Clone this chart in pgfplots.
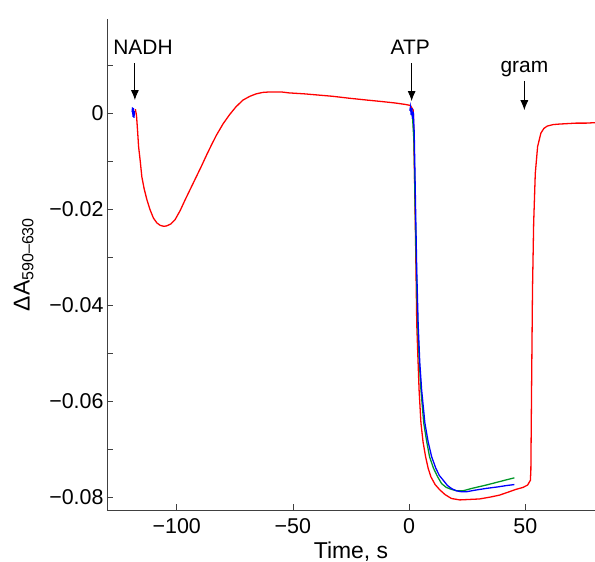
\documentclass[border=0pt]{standalone}
\usepackage{fontspec}
\setmainfont{Liberation Sans}
\usepackage{pgfplots}
\pgfplotsset{compat=1.18}
\usetikzlibrary{arrows.meta}
\definecolor{cred}{RGB}{255,0,0}
\definecolor{cblue}{RGB}{0,0,255}
\definecolor{cgreen}{RGB}{0,150,40}
\begin{document}
\begin{tikzpicture}
\begin{axis}[
  at={(0,0)}, anchor=south west,
  scale only axis, width=488bp, height=491bp,
  xmin=-130, xmax=80, ymin=-0.0827, ymax=0.0196,
  scaled y ticks=false, scaled x ticks=false,
  axis x line*=bottom, axis y line*=left,
  axis line style={black!75, line width=0.8pt},
  every tick/.style={black!75, line width=0.8pt},
  tick align=inside,
  major tick length=6bp, minor tick length=6bp,
  xtick={-100,-50,0,50},
  xticklabels={−100,−50,0,50},
  ytick={-0.08,-0.06,-0.04,-0.02,0},
  yticklabels={−0.08,−0.06,−0.04,−0.02,0},
  minor ytick={-0.07,-0.05,-0.03,-0.01,0.01},
  /pgf/number format/assume math mode=true,
  tick label style={font=\fontsize{21.5}{25}\selectfont},
  xticklabel style={yshift=-5bp},
  xlabel={Time, s}, ylabel={ΔA\textsubscript{590–630}},
  label style={font=\fontsize{23}{27}\selectfont},
  xlabel style={yshift=-1bp},
  ylabel style={yshift=9bp},
  clip=false,
]
\addplot[cred, line width=1.3pt] coordinates {
(-117.8,0.0008) (-117.3,-0.0005) (-116.8,-0.004) (-116.4,-0.007) (-115.7,-0.010) (-115,-0.0133) (-114,-0.0158) (-112.8,-0.0181) (-111.5,-0.0201) (-110,-0.0219) (-108.5,-0.0229) (-107.1,-0.0234) (-105.5,-0.0236) (-104.3,-0.0235) (-102.5,-0.0231) (-100.7,-0.0222) (-98.5,-0.0203) (-96.4,-0.0181) (-94,-0.0157) (-91.5,-0.0132) (-89.3,-0.0110) (-87.2,-0.0088) (-85,-0.0066) (-82.9,-0.0046) (-80,-0.0022) (-77.2,-0.0003) (-74.5,0.0013) (-71.5,0.0027) (-68.5,0.0035) (-65.8,0.0040) (-63,0.0043) (-60.1,0.0044) (-55,0.0044) (-51.6,0.0042) (-45,0.0040) (-40.2,0.0038) (-33,0.0035) (-25.9,0.0031) (-18,0.0027) (-11.7,0.0024) (-6,0.0021) (-1.7,0.0018) (0.5,0.0016)
(1.8,0.0006) (2.3,-0.012) (2.8,-0.027) (3.3,-0.044) (3.8,-0.051) (4.3,-0.0577) (5.1,-0.0646) (6.0,-0.0685) (7.1,-0.0716) (8.2,-0.0740) (9.4,-0.0758) (11.2,-0.0774) (13.2,-0.0785) (15.5,-0.0795) (18.2,-0.0803) (21.8,-0.0806) (26,-0.0805) (30.3,-0.0804) (35,-0.0800) (38.9,-0.0796) (42.5,-0.0790) (46,-0.0784) (49,-0.0780) (51,-0.0775) (52.2,-0.0765) (52.4,-0.0744) (52.7,-0.0577) (53.1,-0.0369) (53.6,-0.0230) (54.3,-0.0126) (55.3,-0.0070) (56.7,-0.0042) (58,-0.0032) (59.5,-0.0027) (62,-0.0024) (64.5,-0.0023) (68,-0.0022) (71.7,-0.0021) (76,-0.0021) (80,-0.0020)
};
\addplot[cgreen, line width=1.3pt] coordinates {
(1.0,0.0008) (1.5,-0.001) (2.1,-0.006) (2.7,-0.022) (3.2,-0.034) (3.7,-0.044) (4.4,-0.052) (5.1,-0.0577) (6.3,-0.0646) (7.6,-0.0685) (8.8,-0.0716) (10.5,-0.0740) (12.3,-0.0758) (14,-0.0772) (16,-0.0780) (18.2,-0.0784) (20.5,-0.0787) (23.2,-0.0787) (27,-0.0782) (33.2,-0.0775) (38,-0.0769) (42,-0.0764) (45.3,-0.0760)
};
\addplot[cblue, line width=1.3pt] coordinates {
(0.3,0.0005) (0.6,0.0013) (0.9,-0.0004) (1.2,0.0010) (1.5,-0.0012) (1.8,0.0003) (2.2,-0.004) (2.8,-0.020) (3.3,-0.033) (3.9,-0.044) (4.6,-0.052) (5.4,-0.0577) (6.8,-0.0646) (8.2,-0.0685) (9.7,-0.0716) (11.5,-0.0740) (13,-0.0755) (14.7,-0.0765) (16.5,-0.0776) (18.5,-0.0783) (20.4,-0.0787) (22.5,-0.0789) (24.7,-0.0789) (28,-0.0786) (33.2,-0.0782) (38,-0.0779) (42,-0.0776) (45.3,-0.0774)
};
\addplot[cblue, line width=1.3pt] coordinates {
(-119.2,0.0002) (-119,0.0012) (-118.8,-0.0008) (-118.6,0.0010) (-118.4,-0.0010) (-118.2,0.0004)
};
\draw[-{Latex[length=10bp,width=8bp]}, line width=0.9pt] (axis cs:-118,0.0104) -- (axis cs:-118,0.0027);
\draw[-{Latex[length=10bp,width=8bp]}, line width=0.9pt] (axis cs:1.1,0.0104) -- (axis cs:1.1,0.0025);
\draw[-{Latex[length=10bp,width=8bp]}, line width=0.9pt] (axis cs:49.6,0.0067) -- (axis cs:49.6,0.0006);
\node[anchor=base, font=\fontsize{21}{25}\selectfont] at (axis cs:-114.5,0.0121) {NADH};
\node[anchor=base, font=\fontsize{21}{25}\selectfont] at (axis cs:0.5,0.0121) {ATP};
\node[anchor=base, font=\fontsize{21}{25}\selectfont] at (axis cs:49.6,0.0085) {gram};
\end{axis}
\pgfresetboundingbox
\path (-107bp,-52bp) rectangle (488bp,510bp);
\end{tikzpicture}
\end{document}
